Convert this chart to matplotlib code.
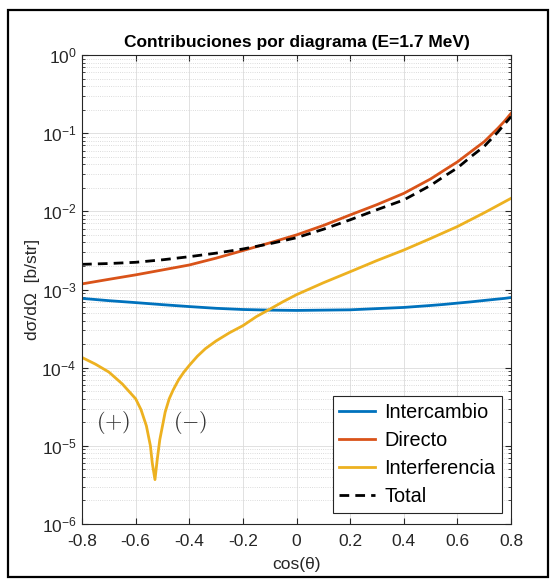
import matplotlib
matplotlib.use("Agg")
import matplotlib.pyplot as plt
import numpy as np
from matplotlib.patches import Rectangle

# angular grid, cos(theta)
cos_theta = [-0.8, -0.7, -0.6, -0.5, -0.4, -0.3, -0.2, -0.1, 0.0,
             0.1, 0.2, 0.3, 0.4, 0.5, 0.55, 0.6, 0.65, 0.7, 0.75, 0.775, 0.8]

# differential cross sections [b/str] per diagram
intercambio = [7.7e-4, 7.2e-4, 6.8e-4, 6.4e-4, 6.05e-4, 5.75e-4, 5.55e-4, 5.45e-4, 5.4e-4,
               5.45e-4, 5.5e-4, 5.7e-4, 5.9e-4, 6.25e-4, 6.45e-4, 6.7e-4, 6.95e-4, 7.25e-4,
               7.55e-4, 7.7e-4, 7.9e-4]
directo = [1.18e-3, 1.35e-3, 1.54e-3, 1.78e-3, 2.06e-3, 2.52e-3, 3.15e-3, 3.95e-3, 5.0e-3,
           6.6e-3, 9.0e-3, 1.22e-2, 1.7e-2, 2.6e-2, 3.35e-2, 4.3e-2, 5.8e-2, 7.8e-2,
           1.15e-1, 1.42e-1, 1.8e-1]
total = [2.10e-3, 2.15e-3, 2.23e-3, 2.4e-3, 2.63e-3, 2.92e-3, 3.3e-3, 3.85e-3, 4.6e-3,
         5.9e-3, 7.8e-3, 1.05e-2, 1.4e-2, 2.15e-2, 2.8e-2, 3.6e-2, 5.0e-2, 6.8e-2,
         1.03e-1, 1.3e-1, 1.63e-1]

# interference term (signed), finer sampling around the sign change
cos_theta_int = [-0.8, -0.75, -0.7, -0.65, -0.6, -0.58, -0.56, -0.545, -0.538, -0.528,
                 -0.52, -0.51, -0.5, -0.49, -0.475, -0.46, -0.44, -0.42, -0.4, -0.37,
                 -0.34, -0.3, -0.25, -0.2, -0.15, -0.1, -0.05, 0.0,
                 0.1, 0.2, 0.3, 0.4, 0.5, 0.6, 0.7, 0.8]
interferencia = [1.35e-4, 1.11e-4, 8.8e-5, 6.2e-5, 4.0e-5, 2.9e-5, 1.8e-5, 1.0e-5, 6.0e-6, 3.7e-6,
                 -6.5e-6, -1.2e-5, -1.8e-5, -2.7e-5, -4.0e-5, -5.2e-5, -7.0e-5, -8.8e-5, -1.07e-4,
                 -1.4e-4, -1.75e-4, -2.2e-4, -2.8e-4, -3.45e-4, -4.5e-4, -5.6e-4, -7.0e-4, -8.6e-4,
                 -1.22e-3, -1.69e-3, -2.35e-3, -3.2e-3, -4.5e-3, -6.4e-3, -9.6e-3, -1.47e-2]

plt.rcParams["font.family"] = ["Liberation Sans", "DejaVu Sans"]
plt.rcParams["mathtext.fontset"] = "cm"
dark = "#262626"

fig = plt.figure(figsize=(5.58, 5.84), dpi=100)
ax = fig.add_axes([0.147, 0.1027, 0.769, 0.8031])

ax.plot(cos_theta, intercambio, color="#0072BD", lw=2, label="Intercambio")
ax.plot(cos_theta, directo, color="#D95319", lw=2, label="Directo")
ax.plot(cos_theta_int, np.abs(interferencia), color="#EDB120", lw=2, label="Interferencia")
ax.plot(cos_theta, total, color="black", lw=2, ls=(0, (3.5, 2.2)), label="Total")

ax.set_yscale("log")
ax.set_xlim(-0.8, 0.8)
ax.set_ylim(1e-6, 1e0)
xt = np.arange(-0.8, 0.81, 0.2)
ax.set_xticks(xt)
ax.set_xticklabels([f"{t:.1f}" if abs(t) > 1e-9 else "0" for t in xt])
ax.set_yticks([10.0 ** k for k in range(-6, 1)])

ax.grid(True, which="major", color="#dcdcdc", lw=0.6)
ax.grid(True, which="minor", axis="y", color="#d0d0d0", lw=0.6, ls=":")
ax.set_axisbelow(True)

ax.tick_params(which="both", direction="in", top=True, right=True, colors=dark,
               labelsize=12.5)
ax.tick_params(which="major", length=4)
ax.tick_params(which="minor", length=2.2)
ax.tick_params(axis="x", which="minor", bottom=False, top=False)
ax.tick_params(axis="x", pad=7.5)
ax.tick_params(axis="y", pad=4)
for sp in ax.spines.values():
    sp.set_color(dark)
    sp.set_linewidth(0.8)

ax.set_title("Contribuciones por diagrama (E=1.7 MeV)", fontsize=12.5,
             fontweight="bold", pad=6)
ax.set_xlabel("cos(θ)", fontsize=12.5, color=dark)
ax.set_ylabel("dσ/dΩ  [b/str]", fontsize=12.5, color=dark)
ax.xaxis.set_label_coords(0.5, -0.071)
ax.yaxis.set_label_coords(-0.097, 0.5)

ax.text(-0.685, 1.97e-5, r"$(+)$", fontsize=16, ha="center", va="center", color="#333333")
ax.text(-0.398, 1.97e-5, r"$(-)$", fontsize=16, ha="center", va="center", color="#333333")

leg = ax.legend(loc="lower right", bbox_to_anchor=(0.979, 0.0235), borderaxespad=0,
                fontsize=14.3, handlelength=1.8, handletextpad=0.45, labelspacing=0.45,
                borderpad=0.35, fancybox=False, framealpha=1)
leg.get_frame().set_edgecolor(dark)
leg.get_frame().set_linewidth(0.8)

# outer frame around the figure
fig.patches.append(Rectangle((0.0143, 0.012), 0.968, 0.971, transform=fig.transFigure,
                             fill=False, edgecolor="black", lw=1.6))

fig.savefig("out.png", dpi=100)
